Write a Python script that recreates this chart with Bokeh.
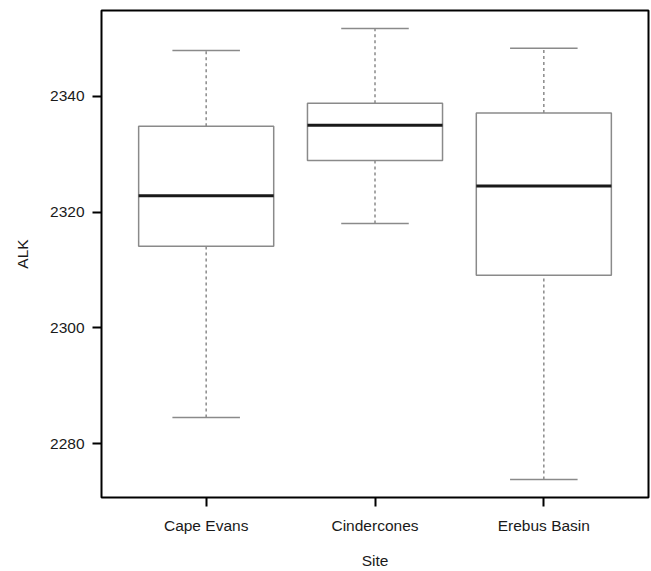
from bokeh.plotting import figure
from bokeh.models import Range1d, FixedTicker, ColumnDataSource
from bokeh.embed import file_html
from bokeh.resources import INLINE

# Data
sites = ["Cape Evans", "Cindercones", "Erebus Basin"]
lower = [2284.5, 2318.0, 2273.8]
q1 = [2314.1, 2328.9, 2309.1]
median = [2322.8, 2335.0, 2324.5]
q3 = [2334.8, 2338.8, 2337.1]
upper = [2347.9, 2351.7, 2348.3]
y_ticks = [2280, 2300, 2320, 2340]

xpos = [i + 1 for i in range(len(sites))]
box_half = 0.4
cap_half = 0.2

src = ColumnDataSource(dict(
    x=xpos,
    left=[x - box_half for x in xpos],
    right=[x + box_half for x in xpos],
    cap_l=[x - cap_half for x in xpos],
    cap_r=[x + cap_half for x in xpos],
    lower=lower, q1=q1, median=median, q3=q3, upper=upper,
))

ymin, ymax = min(lower), max(upper)
pad = 0.04 * (ymax - ymin)

p = figure(width=651, height=571, output_backend="svg", toolbar_location=None,
           x_range=Range1d(0.5 - 0.12, len(sites) + 0.5 + 0.12),
           y_range=Range1d(ymin - pad, ymax + pad),
           min_border_left=101, min_border_right=3, min_border_top=10,
           min_border_bottom=72)

FONT = "Liberation Sans"
box_col = "#8a8a8a"

# whiskers
p.segment(x0="x", x1="x", y0="q3", y1="upper", source=src, line_color=box_col,
          line_width=1.5, line_dash="3 3")
p.segment(x0="x", x1="x", y0="lower", y1="q1", source=src, line_color=box_col,
          line_width=1.5, line_dash="3 3")
# caps
p.segment(x0="cap_l", x1="cap_r", y0="upper", y1="upper", source=src,
          line_color=box_col, line_width=1.5)
p.segment(x0="cap_l", x1="cap_r", y0="lower", y1="lower", source=src,
          line_color=box_col, line_width=1.5)
# boxes
p.quad(left="left", right="right", bottom="q1", top="q3", source=src,
       fill_color="white", line_color=box_col, line_width=1.5)
# medians
p.segment(x0="left", x1="right", y0="median", y1="median", source=src,
          line_color="#1a1a1a", line_width=3)

p.xgrid.visible = False
p.ygrid.visible = False
p.outline_line_color = "black"
p.outline_line_width = 2
p.outline_line_alpha = 1

p.xaxis.ticker = FixedTicker(ticks=xpos)
p.xaxis.major_label_overrides = {x: s for x, s in zip(xpos, sites)}
p.yaxis.ticker = FixedTicker(ticks=y_ticks)

for ax in (p.xaxis, p.yaxis):
    ax.axis_line_color = None
    ax.major_tick_in = 0
    ax.major_tick_out = 9
    ax.major_tick_line_width = 2
    ax.major_tick_line_color = "black"
    ax.minor_tick_line_color = None
    ax.major_label_text_font = FONT
    ax.major_label_text_font_size = "15.5px"
    ax.major_label_text_color = "#1a1a1a"
    ax.axis_label_text_font = FONT
    ax.axis_label_text_font_size = "15.5px"
    ax.axis_label_text_font_style = "normal"
    ax.axis_label_text_color = "#1a1a1a"

p.xaxis.axis_label = "Site"
p.yaxis.axis_label = "ALK"
p.xaxis.major_label_standoff = 10
p.xaxis.axis_label_standoff = 15
p.yaxis.major_label_standoff = 8
p.yaxis.axis_label_standoff = 16
p.yaxis.major_label_orientation = "horizontal"

open("out.html", "w").write(file_html(p, INLINE))
